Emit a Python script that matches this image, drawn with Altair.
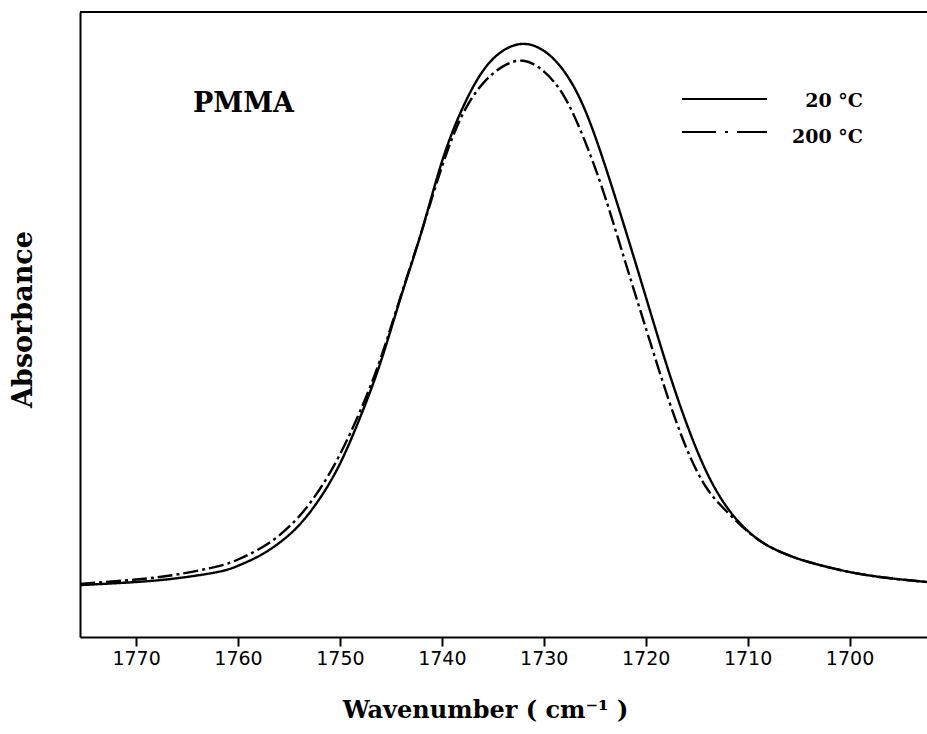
import altair as alt
import pandas as pd

# Wavenumber (cm-1) and absorbance (arbitrary units)
w_20 = [1775.5, 1770.0, 1766.0, 1762.0, 1760.0, 1758.0, 1756.0, 1754.0, 1752.0, 1750.0,
        1748.0, 1746.0, 1744.0, 1742.0, 1740.0, 1738.0, 1736.0, 1734.0, 1732.0, 1730.0,
        1728.0, 1726.0, 1724.0, 1722.0, 1720.0, 1718.0, 1716.0, 1714.0, 1712.0, 1710.0,
        1708.0, 1706.0, 1704.0, 1700.0, 1696.0, 1692.4]
a_20 = [0.083, 0.088, 0.094, 0.104, 0.114, 0.129, 0.150, 0.179, 0.221, 0.277,
        0.352, 0.440, 0.545, 0.648, 0.760, 0.845, 0.905, 0.938, 0.949, 0.938,
        0.905, 0.845, 0.755, 0.652, 0.545, 0.438, 0.342, 0.263, 0.207, 0.170,
        0.146, 0.131, 0.120, 0.104, 0.094, 0.088]

w_200 = [1775.5, 1770.0, 1766.0, 1762.0, 1760.0, 1758.0, 1756.0, 1754.0, 1752.0, 1750.0,
         1748.0, 1746.0, 1744.0, 1742.0, 1740.0, 1738.0, 1736.0, 1734.0, 1732.0, 1730.0,
         1728.0, 1726.0, 1724.0, 1722.0, 1720.0, 1718.0, 1716.0, 1714.0, 1712.0, 1710.0,
         1708.0, 1706.0, 1704.0, 1700.0, 1696.0, 1692.4]
a_200 = [0.085, 0.092, 0.100, 0.113, 0.124, 0.140, 0.162, 0.193, 0.236, 0.292,
         0.362, 0.446, 0.547, 0.648, 0.752, 0.835, 0.885, 0.913, 0.922, 0.905,
         0.865, 0.795, 0.705, 0.600, 0.495, 0.392, 0.302, 0.238, 0.200, 0.169,
         0.146, 0.131, 0.120, 0.104, 0.094, 0.088]

series_names = ["20 °C", "200 °C"]
x_ticks = [1770, 1760, 1750, 1740, 1730, 1720, 1710, 1700]
x_domain = [1692.4, 1775.5]

df = pd.concat([
    pd.DataFrame({"w": w_20, "a": a_20, "series": series_names[0]}),
    pd.DataFrame({"w": w_200, "a": a_200, "series": series_names[1]}),
])

W, H = 847, 625
dash_scale = alt.Scale(domain=series_names, range=[[1, 0], [15, 4, 3, 4]])

lines = alt.Chart(df).mark_line(
    color="black", strokeWidth=2.4, interpolate="natural", clip=True
).encode(
    x=alt.X("w:Q",
            scale=alt.Scale(domain=x_domain, reverse=True, nice=False, zero=False),
            axis=alt.Axis(values=x_ticks, format="d", grid=False,
                          title="Wavenumber  ( cm⁻¹ )",
                          titleX=405, titleY=80, titleAlign="center",
                          titleBaseline="alphabetic")),
    y=alt.Y("a:Q", scale=alt.Scale(domain=[0, 1], nice=False),
            axis=alt.Axis(labels=False, ticks=False, grid=False, title="Absorbance",
                          titleX=-57, titleY=307, titleAngle=-90,
                          titleAlign="center", titleBaseline="middle")),
    strokeDash=alt.StrokeDash("series:N", scale=dash_scale, legend=None),
    detail="series:N",
)

one = pd.DataFrame({"k": [0]})

top_border = alt.Chart(one).mark_rule(color="black", strokeWidth=2).encode(
    x=alt.value(0), x2=alt.value(W), y=alt.value(0)
)

leg1 = alt.Chart(one).mark_rule(color="black", strokeWidth=2.2).encode(
    x=alt.value(602), x2=alt.value(687), y=alt.value(87)
)
leg2 = alt.Chart(one).mark_rule(color="black", strokeWidth=2.2,
                                strokeDash=[34, 9, 3, 9]).encode(
    x=alt.value(602), x2=alt.value(687), y=alt.value(120)
)
leg_t1 = alt.Chart(one).mark_text(
    text=series_names[0], align="right", baseline="alphabetic",
    font="DejaVu Serif", fontWeight="bold", fontSize=19, color="black"
).encode(x=alt.value(783), y=alt.value(95))
leg_t2 = alt.Chart(one).mark_text(
    text=series_names[1], align="right", baseline="alphabetic",
    font="DejaVu Serif", fontWeight="bold", fontSize=19, color="black"
).encode(x=alt.value(783), y=alt.value(131))

pmma = alt.Chart(one).mark_text(
    text="PMMA", align="left", baseline="alphabetic",
    font="DejaVu Serif", fontWeight="bold", fontSize=27, color="black"
).encode(x=alt.value(113), y=alt.value(100))

chart = alt.layer(lines, top_border, leg1, leg2, leg_t1, leg_t2, pmma).properties(
    width=W, height=H,
    autosize=alt.AutoSizeParams(type="none"),
    padding={"left": 80, "top": 12, "right": 0, "bottom": 97},
    background="white",
).configure_view(stroke=None).configure_axis(
    domainColor="black", domainWidth=2, tickColor="black", tickWidth=2,
    tickSize=9, labelFont="DejaVu Sans", labelFontSize=19, labelColor="black",
    labelPadding=3, titleFont="DejaVu Serif", titleFontWeight="bold",
    titleColor="black",
).configure_axisX(titleFontSize=24).configure_axisY(titleFontSize=27)

chart.save("out.html", embed_options={"renderer": "svg", "actions": False})
